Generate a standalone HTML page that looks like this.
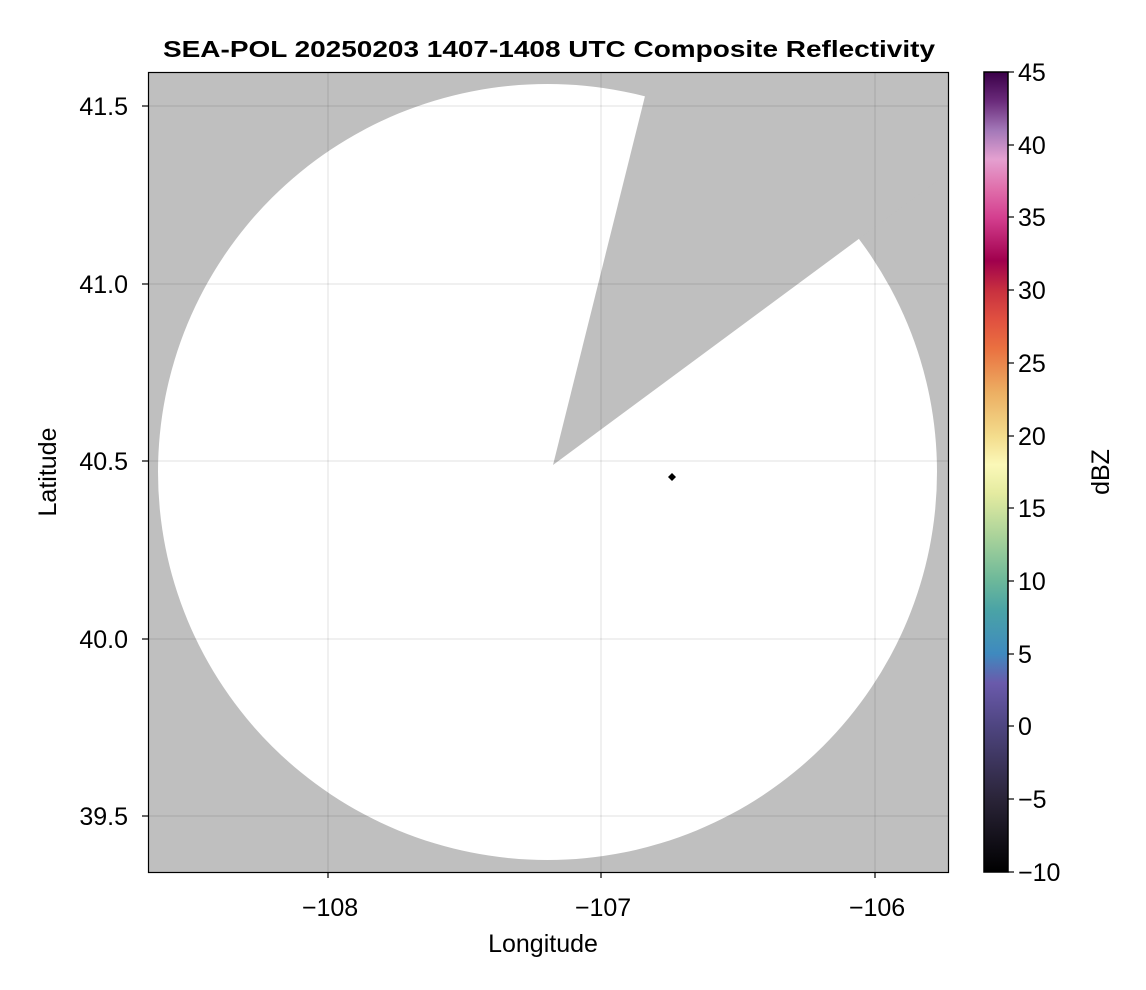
<!DOCTYPE html>
<html><head><meta charset="utf-8"><style>body{margin:0;background:#fff}svg{display:block}text{font-family:"Liberation Sans",sans-serif}</style></head><body>
<svg width="1146" height="990" xmlns="http://www.w3.org/2000/svg">
<defs><linearGradient id="cb" x1="0" y1="0" x2="0" y2="1">
<stop offset="0" stop-color="#3a0048"/>
<stop offset="0.036" stop-color="#6a2a7a"/>
<stop offset="0.073" stop-color="#a378b8"/>
<stop offset="0.109" stop-color="#e4a0d0"/>
<stop offset="0.145" stop-color="#e070ac"/>
<stop offset="0.182" stop-color="#d43f8f"/>
<stop offset="0.236" stop-color="#a0004d"/>
<stop offset="0.273" stop-color="#c8303f"/>
<stop offset="0.309" stop-color="#e05040"/>
<stop offset="0.345" stop-color="#ea7040"/>
<stop offset="0.4" stop-color="#ecae62"/>
<stop offset="0.455" stop-color="#f3dc8c"/>
<stop offset="0.491" stop-color="#fbf8b8"/>
<stop offset="0.527" stop-color="#e4eba0"/>
<stop offset="0.582" stop-color="#a8d29a"/>
<stop offset="0.636" stop-color="#6cb89a"/>
<stop offset="0.673" stop-color="#4aa3a6"/>
<stop offset="0.727" stop-color="#3f8abf"/>
<stop offset="0.764" stop-color="#6a5aab"/>
<stop offset="0.818" stop-color="#4e4580"/>
<stop offset="0.909" stop-color="#2a2438"/>
<stop offset="1" stop-color="#000000"/>
</linearGradient>
<clipPath id="pc"><rect x="148" y="72" width="800" height="800"/></clipPath></defs>
<text x="549" y="57" text-anchor="middle" font-size="23" font-weight="bold" textLength="772" lengthAdjust="spacingAndGlyphs">SEA-POL 20250203 1407-1408 UTC Composite Reflectivity</text>
<g clip-path="url(#pc)">
<rect x="148" y="72" width="800" height="800" fill="#bfbfbf"/>
<ellipse cx="547.5" cy="472" rx="389.5" ry="388" fill="#fff"/>
<polygon points="553,465 651,72 948,72 948,173" fill="#bfbfbf"/>
<g stroke="#000" stroke-opacity="0.12" stroke-width="1">
<line x1="328" y1="72" x2="328" y2="872"/><line x1="601" y1="72" x2="601" y2="872"/><line x1="875" y1="72" x2="875" y2="872"/>
<line x1="148" y1="106" x2="948" y2="106"/><line x1="148" y1="284" x2="948" y2="284"/><line x1="148" y1="461" x2="948" y2="461"/><line x1="148" y1="639" x2="948" y2="639"/><line x1="148" y1="816" x2="948" y2="816"/>
</g>
<polygon points="672,473 676,477 672,481 668,477" fill="#000"/>
</g>
<rect x="148.5" y="72.5" width="800" height="800" fill="none" stroke="#000" stroke-width="1.2"/>
<g stroke="#000" stroke-width="1.2">
<line x1="328" y1="872" x2="328" y2="878"/><line x1="601" y1="872" x2="601" y2="878"/><line x1="875" y1="872" x2="875" y2="878"/>
<line x1="142" y1="106" x2="148" y2="106"/><line x1="142" y1="284" x2="148" y2="284"/><line x1="142" y1="461" x2="148" y2="461"/><line x1="142" y1="639" x2="148" y2="639"/><line x1="142" y1="816" x2="148" y2="816"/>
</g>
<g font-size="25" text-anchor="middle">
<text x="330" y="916">−108</text><text x="603" y="916">−107</text><text x="877" y="916">−106</text>
<text x="543" y="952">Longitude</text>
</g>
<g font-size="25" text-anchor="end">
<text x="128" y="115">41.5</text><text x="128" y="293">41.0</text><text x="128" y="470">40.5</text><text x="128" y="648">40.0</text><text x="128" y="825">39.5</text>
</g>
<text transform="translate(56,472) rotate(-90)" font-size="25" text-anchor="middle">Latitude</text>
<rect x="984" y="72" width="24" height="800" fill="url(#cb)" stroke="#000" stroke-width="1.5"/>
<g stroke="#000" stroke-width="1.2">
<line x1="1008" y1="72" x2="1014" y2="72"/><line x1="1008" y1="145" x2="1014" y2="145"/><line x1="1008" y1="217" x2="1014" y2="217"/><line x1="1008" y1="290" x2="1014" y2="290"/><line x1="1008" y1="363" x2="1014" y2="363"/><line x1="1008" y1="436" x2="1014" y2="436"/><line x1="1008" y1="508" x2="1014" y2="508"/><line x1="1008" y1="581" x2="1014" y2="581"/><line x1="1008" y1="654" x2="1014" y2="654"/><line x1="1008" y1="726" x2="1014" y2="726"/><line x1="1008" y1="799" x2="1014" y2="799"/><line x1="1008" y1="872" x2="1014" y2="872"/>
</g>
<g font-size="25">
<text x="1018" y="81">45</text><text x="1018" y="154">40</text><text x="1018" y="226">35</text><text x="1018" y="299">30</text><text x="1018" y="372">25</text><text x="1018" y="445">20</text><text x="1018" y="517">15</text><text x="1018" y="590">10</text><text x="1018" y="663">5</text><text x="1018" y="735">0</text><text x="1018" y="808">−5</text><text x="1018" y="881">−10</text>
</g>
<text transform="translate(1109,472) rotate(-90)" font-size="25" text-anchor="middle">dBZ</text>
</svg>
</body></html>
